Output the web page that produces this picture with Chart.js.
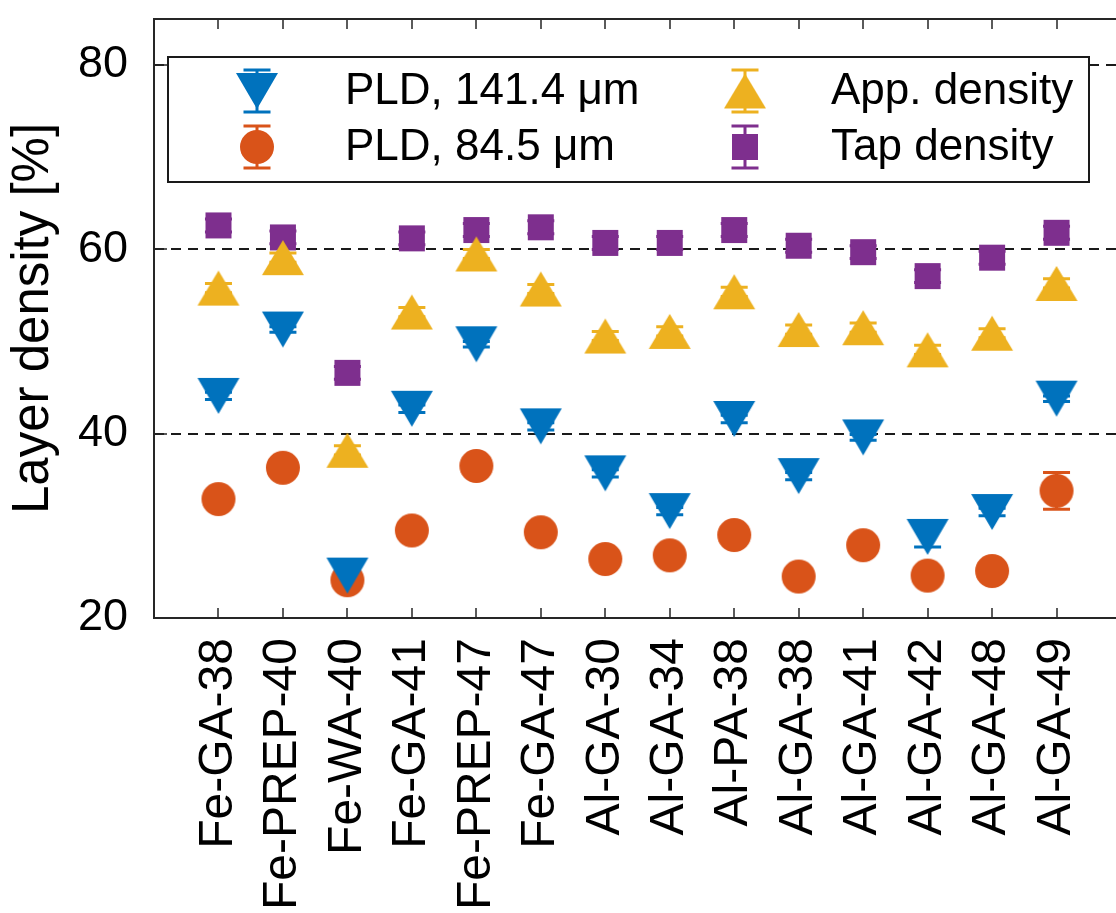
<!DOCTYPE html>
<html>
<head>
<meta charset="utf-8">
<script src="https://cdn.jsdelivr.net/npm/chart.js@4.4.1/dist/chart.umd.min.js"></script>
<style>
  html, body { margin:0; padding:0; background:#fff; overflow:hidden; }
  #wrap { width:1116px; height:913px; overflow:hidden; }
</style>
</head>
<body>
<div id="wrap"><canvas id="chart" width="1140" height="913"></canvas></div>
<script>
/* ---------- data ---------- */
const CATEGORIES = ["Fe-GA-38","Fe-PREP-40","Fe-WA-40","Fe-GA-41","Fe-PREP-47","Fe-GA-47",
                    "Al-GA-30","Al-GA-34","Al-PA-38","Al-GA-38","Al-GA-41","Al-GA-42","Al-GA-48","Al-GA-49"];
const Y_TICKS = [20, 40, 60, 80];

const PLD_141     = [44.1, 51.3, 24.6, 42.7, 49.7, 40.8, 35.7, 31.6, 41.6, 35.4, 39.6, 28.8, 31.5, 43.8];
const PLD_141_ERR = [0.4, 0.3, 0.4, 0.4, 0.3, 0.4, 0.4, 0.4, 0.4, 0.4, 0.3, 1.1, 0.4, 0.3];
const PLD_84      = [32.9, 36.3, 24.1, 29.5, 36.5, 29.3, 26.4, 26.8, 29.0, 24.5, 27.9, 24.6, 25.1, 33.8];
const PLD_84_ERR  = [0.5, 0.5, 0.5, 0.5, 0.5, 0.5, 0.5, 0.6, 0.5, 0.5, 0.5, 0.5, 0.5, 2.0];
const APP_DENS    = [55.8, 59.1, 38.2, 53.2, 59.5, 55.7, 50.6, 51.1, 55.4, 51.3, 51.5, 49.1, 50.9, 56.3];
const APP_ERR     = [0.5, 0.5, 0.5, 0.5, 0.5, 0.5, 0.5, 0.5, 0.5, 0.5, 0.5, 0.5, 0.5, 0.5];
const TAP_DENS    = [62.6, 61.3, 46.6, 61.2, 62.1, 62.4, 60.7, 60.7, 62.1, 60.4, 59.7, 57.1, 59.1, 61.8];
const TAP_ERR     = [0.7, 0.7, 0.7, 0.7, 0.7, 0.7, 0.7, 0.7, 0.7, 0.7, 0.7, 0.7, 0.7, 0.7];

/* ---------- style ---------- */
const AX = "#262626";
const FONT = "'Liberation Sans', Arial, Helvetica, sans-serif";

// matlab-like markers, centred on their bounding box
function marker(shape, color, w, h){
  const c = document.createElement("canvas");
  c.width = w + 2; c.height = h + 2;
  const g = c.getContext("2d");
  g.fillStyle = color;
  g.beginPath();
  if(shape === "down"){ g.moveTo(1,1); g.lineTo(1+w,1); g.lineTo(1+w/2,1+h); }
  else if(shape === "up"){ g.moveTo(1,1+h); g.lineTo(1+w,1+h); g.lineTo(1+w/2,1); }
  else if(shape === "circle"){ g.arc(1+w/2, 1+h/2, w/2, 0, Math.PI*2); }
  else { g.rect(1,1,w,h); }
  g.closePath(); g.fill();
  return c;
}

const SERIES = [
  { label:"PLD, 141.4 μm", values:PLD_141,  err:PLD_141_ERR, color:"#0072BD", img:marker("down","#0072BD",42,36) },
  { label:"PLD, 84.5 μm",  values:PLD_84,   err:PLD_84_ERR,  color:"#D95319", img:marker("circle","#D95319",34,34) },
  { label:"App. density",  values:APP_DENS, err:APP_ERR,     color:"#EDB120", img:marker("up","#EDB120",42,35) },
  { label:"Tap density",   values:TAP_DENS, err:TAP_ERR,     color:"#7E2F8E", img:marker("rect","#7E2F8E",26,26) },
];

/* ---------- plugins ---------- */
function errBar(ctx, x, y1, y2, color){
  const cap = 13.5;
  ctx.save();
  ctx.strokeStyle = color; ctx.lineWidth = 3;
  ctx.beginPath();
  ctx.moveTo(x, y1); ctx.lineTo(x, y2);
  ctx.moveTo(x-cap, y1); ctx.lineTo(x+cap, y1);
  ctx.moveTo(x-cap, y2); ctx.lineTo(x+cap, y2);
  ctx.stroke();
  ctx.restore();
}

const frame = {
  id:"frame",
  beforeDatasetsDraw(chart){
    const {ctx, chartArea:a, scales:{x, y}} = chart;
    // dashed reference lines
    ctx.save();
    ctx.strokeStyle = "#1a1a1a"; ctx.lineWidth = 2; ctx.setLineDash([10,7]);
    Y_TICKS.filter(v => v > y.min).forEach(v=>{
      const py = Math.round(y.getPixelForValue(v));
      ctx.beginPath(); ctx.moveTo(a.left, py); ctx.lineTo(a.right, py); ctx.stroke();
    });
    ctx.restore();
    // error bars under the markers
    SERIES.forEach(s=>{
      s.values.forEach((v,i)=>{
        errBar(ctx, x.getPixelForValue(i+1), y.getPixelForValue(v - s.err[i]), y.getPixelForValue(v + s.err[i]), s.color);
      });
    });
  },
  afterDraw(chart){
    const {ctx, chartArea:a, scales:{x, y}} = chart;
    ctx.save();
    ctx.strokeStyle = AX;
    // ticks
    ctx.lineWidth = 1.5;
    ctx.beginPath();
    CATEGORIES.forEach((_,i)=>{
      const px = Math.round(x.getPixelForValue(i+1));
      ctx.moveTo(px, a.bottom); ctx.lineTo(px, a.bottom-10);
      ctx.moveTo(px, a.top);    ctx.lineTo(px, a.top+10);
    });
    Y_TICKS.forEach(v=>{
      const py = Math.round(y.getPixelForValue(v));
      ctx.moveTo(a.left, py); ctx.lineTo(a.left+13, py);
    });
    ctx.stroke();
    // axes box (right side is off-canvas)
    ctx.lineWidth = 2;
    ctx.beginPath();
    ctx.moveTo(a.right, a.top); ctx.lineTo(a.left, a.top); ctx.lineTo(a.left, a.bottom); ctx.lineTo(a.right, a.bottom);
    ctx.stroke();

    // legend
    const L = a.left + 14, T = a.top + 38, W = 921, H = 125;
    ctx.fillStyle = "#fff";
    ctx.fillRect(L, T, W, H);
    ctx.strokeStyle = "#1a1a1a"; ctx.lineWidth = 2;
    ctx.strokeRect(L, T, W, H);
    const cols = [{m:a.left+103, t:a.left+191}, {m:a.left+591, t:a.left+677}];
    const rows = [a.top+72, a.top+128];
    ctx.font = "44px " + FONT;
    ctx.textBaseline = "middle"; ctx.textAlign = "left";
    SERIES.forEach((s,k)=>{
      const c = cols[Math.floor(k/2)], ry = rows[k%2];
      errBar(ctx, c.m, ry-21, ry+21, s.color);
      ctx.drawImage(s.img, c.m - s.img.width/2, ry - s.img.height/2);
      ctx.fillStyle = "#000";
      ctx.fillText(s.label, c.t, ry+1);
    });
    ctx.restore();
  }
};

/* ---------- chart ---------- */
new Chart(document.getElementById("chart"), {
  type:"scatter",
  data:{
    datasets: SERIES.map(s=>({
      label:s.label,
      data:s.values.map((v,i)=>({x:i+1, y:v})),
      pointStyle:s.img,
      backgroundColor:s.color, borderColor:s.color,
      pointRadius:18, pointHoverRadius:18,
    })),
  },
  options:{
    responsive:false, animation:false, events:[],
    layout:{ padding:{ top:15, right:17, left:0, bottom:0 } },
    plugins:{ legend:{display:false}, tooltip:{enabled:false} },
    scales:{
      x:{
        type:"linear", min:0, max:15,
        grid:{display:false, drawTicks:false}, border:{display:false},
        afterBuildTicks: sc => { sc.ticks = CATEGORIES.map((_,i)=>({value:i+1})); },
        afterFit: sc => { sc.height = 295; sc.paddingLeft = 0; sc.paddingRight = 0; },
        ticks:{
          autoSkip:false, minRotation:90, maxRotation:90, padding:20,
          color:"#000", font:{family:FONT, size:48},
          callback: v => CATEGORIES[v-1],
        },
      },
      y:{
        min:20, max:85,
        grid:{display:false, drawTicks:false}, border:{display:false},
        afterBuildTicks: sc => { sc.ticks = Y_TICKS.map(v=>({value:v})); },
        afterFit: sc => { sc.width = 154; sc.paddingTop = 0; sc.paddingBottom = 0; },
        ticks:{ padding:26, color:"#000", font:{family:FONT, size:45} },
        title:{ display:true, text:"Layer density [%]", color:"#000", font:{family:FONT, size:51}, padding:{top:3, bottom:0} },
      },
    },
  },
  plugins:[frame],
});
</script>
</body>
</html>
